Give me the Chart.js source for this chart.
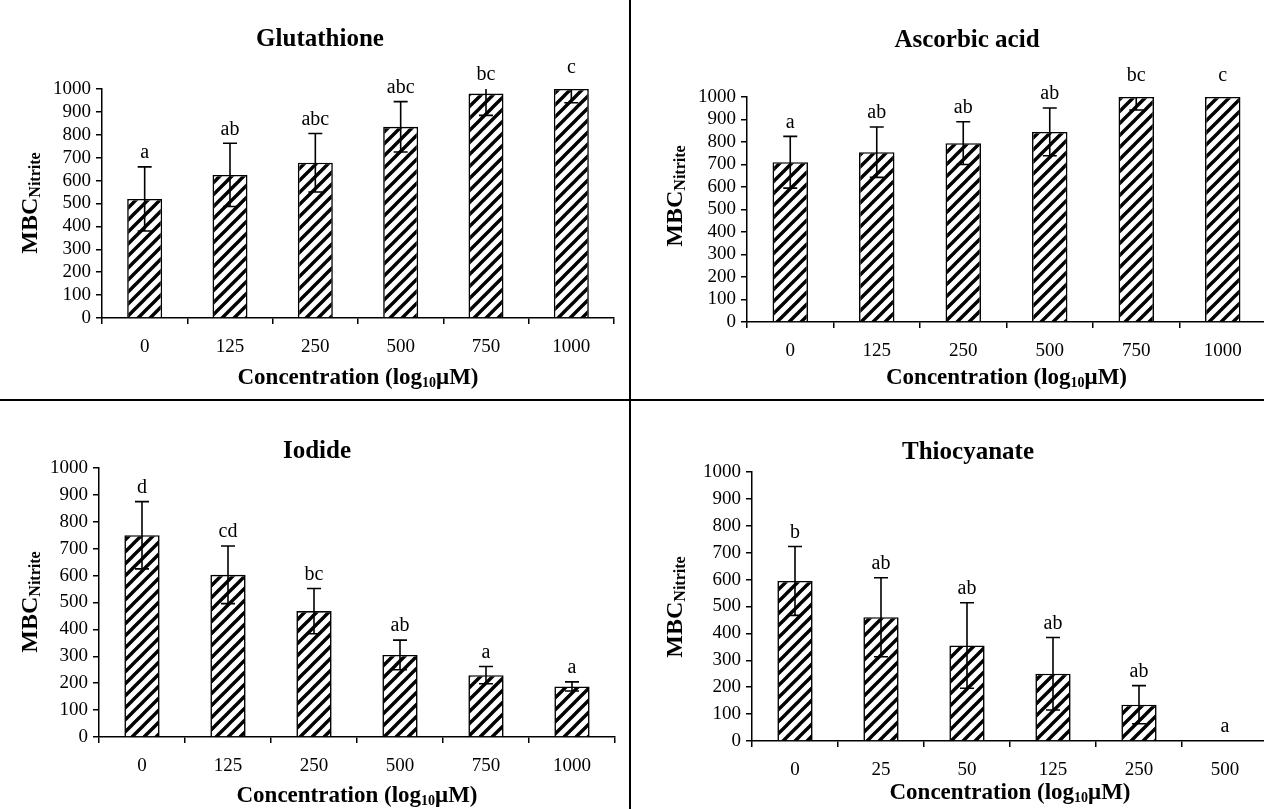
<!DOCTYPE html>
<html>
<head>
<meta charset="utf-8">
<script src="https://cdn.jsdelivr.net/npm/chart.js@4.4.1/dist/chart.umd.min.js"></script>
<style>
  html, body { margin: 0; padding: 0; background: #fff; overflow: hidden; }
  body { width: 1264px; height: 809px; position: relative; }
  canvas { position: absolute; }
  .rule { position: absolute; background: #000; }
</style>
</head>
<body>
<canvas id="glutaChart"></canvas>
<canvas id="ascorbicChart"></canvas>
<canvas id="iodideChart"></canvas>
<canvas id="thioChart"></canvas>
<div class="rule" style="left:629px; top:0; width:2px; height:809px;"></div>
<div class="rule" style="left:0; top:399px; width:1264px; height:2px;"></div>
<script>
// Dữ liệu
const concLabels = ['0', '125', '250', '500', '750', '1000'];
const thioLabels = ['0', '25', '50', '125', '250', '500'];

const glutaMeans = [520, 625, 678, 835, 980, 1000];
const glutaErrors = [140, 138, 128, 110, 95, 60];
const glutaLetters = ['a', 'ab', 'abc', 'abc', 'bc', 'c'];

const ascorbicMeans = [710, 755, 795, 845, 1000, 1000];
const ascorbicErrors = [115, 112, 95, 106, 58, 0];
const ascorbicLetters = ['a', 'ab', 'ab', 'ab', 'bc', 'c'];

const iodideMeans = [750, 603, 468, 305, 230, 188];
const iodideErrors = [125, 107, 84, 55, 32, 17];
const iodideLetters = ['d', 'cd', 'bc', 'ab', 'a', 'a'];

const thioMeans = [595, 460, 355, 250, 135, 0];
const thioErrors = [128, 147, 159, 135, 71, 0];
const thioLetters = ['b', 'ab', 'ab', 'ab', 'ab', 'a'];

const yMax = 1000;
const yStep = 100;

const SERIF = '"Liberation Serif", "Times New Roman", serif';

// Vị trí từng ô trên trang (px của trang)
const layouts = {
  gluta:    { left: 0,   top: 0,   width: 629, height: 399, plot: [102, 89, 614, 318], titleX: 320, titleY: 40,  yTitleX: 31,  yTitleY: 203, xTitleY: 378 },
  ascorbic: { left: 631, top: 0,   width: 640, height: 399, plot: [747, 97, 1266, 322], titleX: 967, titleY: 41, yTitleX: 676, yTitleY: 196, xTitleY: 378 },
  iodide:   { left: 0,   top: 401, width: 629, height: 408, plot: [99, 468, 615, 737], titleX: 317, titleY: 452, yTitleX: 31,  yTitleY: 602, xTitleY: 796 },
  thio:     { left: 631, top: 401, width: 640, height: 408, plot: [752, 472, 1268, 741], titleX: 968, titleY: 453, yTitleX: 676, yTitleY: 607, xTitleY: 793 }
};

// Tạo mẫu gạch chéo cho cột
function makeHatch() {
  const size = 12;
  const c = document.createElement('canvas');
  c.width = size;
  c.height = size;
  const g = c.getContext('2d');
  g.fillStyle = '#fff';
  g.fillRect(0, 0, size, size);
  g.strokeStyle = '#000';
  g.lineWidth = 3.4;
  g.beginPath();
  g.moveTo(-1, size + 1); g.lineTo(size + 1, -1);
  g.moveTo(-size / 2 - 1, size / 2 + 1); g.lineTo(size / 2 + 1, -size / 2 - 1);
  g.moveTo(size / 2 - 1, size * 1.5 + 1); g.lineTo(size * 1.5 + 1, size / 2 - 1);
  g.stroke();
  return g.createPattern(c, 'repeat');
}

// Plugin vẽ thanh sai số, chữ cái, tiêu đề và nhãn trục
const panelDecor = {
  id: 'panelDecor',
  afterDatasetsDraw(chart) {
    const ctx = chart.ctx;
    const L = chart.options.plugins.panelDecor;
    const ds = chart.data.datasets[0];
    const meta = chart.getDatasetMeta(0);
    const y = chart.scales.y;
    const area = chart.chartArea;

    // Thanh sai số (cắt theo vùng biểu đồ)
    ctx.save();
    ctx.beginPath();
    ctx.rect(area.left, area.top, area.right - area.left, area.bottom - area.top + 1);
    ctx.clip();
    ctx.strokeStyle = '#000';
    ctx.lineWidth = 1.6;
    meta.data.forEach((bar, i) => {
      const err = ds.errors[i];
      if (!err) return;
      const x = bar.x;
      const top = y.getPixelForValue(ds.data[i] + err);
      const bot = y.getPixelForValue(ds.data[i] - err);
      ctx.beginPath();
      ctx.moveTo(x, top); ctx.lineTo(x, bot);
      ctx.moveTo(x - 7, top); ctx.lineTo(x + 7, top);
      ctx.moveTo(x - 7, bot); ctx.lineTo(x + 7, bot);
      ctx.stroke();
    });
    ctx.restore();

    // Chữ cái thống kê trên mỗi cột
    ctx.save();
    ctx.fillStyle = '#000';
    ctx.font = '20px ' + SERIF;
    ctx.textAlign = 'center';
    ctx.textBaseline = 'middle';
    meta.data.forEach((bar, i) => {
      let ty;
      if (ds.data[i] >= yMax) {
        ty = area.top - 21;
      } else {
        const top = Math.min(ds.data[i] + ds.errors[i], yMax);
        ty = y.getPixelForValue(top) - 14;
      }
      ctx.fillText(ds.letters[i], bar.x, ty);
    });
    ctx.restore();

    // Tiêu đề
    ctx.save();
    ctx.fillStyle = '#000';
    ctx.textAlign = 'center';
    ctx.textBaseline = 'middle';
    ctx.font = 'bold 25px ' + SERIF;
    ctx.fillText(L.title, L.titleX - L.left, L.titleY - L.top);
    ctx.restore();

    // Nhãn trục x: Concentration (log10μM)
    ctx.save();
    ctx.fillStyle = '#000';
    ctx.textBaseline = 'middle';
    const big = 'bold 23px ' + SERIF;
    const small = 'bold 14px ' + SERIF;
    const p1 = 'Concentration (log', p2 = '10', p3 = '\u03BCM)';
    ctx.font = big;
    const w1 = ctx.measureText(p1).width, w3 = ctx.measureText(p3).width;
    ctx.font = small;
    const w2 = ctx.measureText(p2).width;
    const cx = (area.left + area.right) / 2;
    let sx = cx - (w1 + w2 + w3) / 2;
    const sy = L.xTitleY - L.top;
    ctx.font = big; ctx.fillText(p1, sx, sy); sx += w1;
    ctx.font = small; ctx.fillText(p2, sx, sy + 5); sx += w2;
    ctx.font = big; ctx.fillText(p3, sx, sy);
    ctx.restore();

    // Nhãn trục y: MBC Nitrite (xoay dọc)
    ctx.save();
    ctx.fillStyle = '#000';
    ctx.textBaseline = 'middle';
    ctx.translate(L.yTitleX - L.left, L.yTitleY - L.top);
    ctx.rotate(-Math.PI / 2);
    const f1 = 'bold 24px ' + SERIF, f2 = 'bold 16px ' + SERIF;
    ctx.font = f1;
    const m1 = ctx.measureText('MBC').width;
    ctx.font = f2;
    const m2 = ctx.measureText('Nitrite').width;
    let tx = -(m1 + m2) / 2;
    ctx.font = f1; ctx.fillText('MBC', tx, 0); tx += m1;
    ctx.font = f2; ctx.fillText('Nitrite', tx, 5);
    ctx.restore();
  }
};

// Hàm tạo một biểu đồ
function buildChart(canvasId, L, labels, means, errors, letters, title) {
  const canvas = document.getElementById(canvasId);
  canvas.width = L.width;
  canvas.height = L.height;
  canvas.style.left = L.left + 'px';
  canvas.style.top = L.top + 'px';
  const ctx = canvas.getContext('2d');
  L.title = title;

  const axisGrid = {
    display: true,
    drawOnChartArea: false,
    drawTicks: true,
    tickLength: 6,
    color: '#000',
    lineWidth: 1.5
  };

  return new Chart(ctx, {
    type: 'bar',
    data: {
      labels: labels,
      datasets: [{
        data: means,
        errors: errors,
        letters: letters,
        backgroundColor: makeHatch(),
        borderColor: '#000',
        borderWidth: 1.6,
        barPercentage: 0.41,
        categoryPercentage: 1
      }]
    },
    options: {
      responsive: false,
      animation: false,
      devicePixelRatio: 1,
      layout: {
        padding: { top: L.plot[1] - L.top, right: L.left + L.width - L.plot[2], left: 0, bottom: 0 }
      },
      plugins: {
        legend: { display: false },
        tooltip: { enabled: false },
        panelDecor: L
      },
      scales: {
        x: {
          grid: Object.assign({ offset: true }, axisGrid),
          border: { display: true, color: '#000', width: 1.5 },
          ticks: { color: '#000', font: { family: SERIF, size: 19 }, padding: 12, maxRotation: 0, autoSkip: false },
          afterFit: (s) => { s.height = L.top + L.height - L.plot[3]; }
        },
        y: {
          min: 0,
          max: yMax,
          grid: axisGrid,
          border: { display: true, color: '#000', width: 1.5 },
          ticks: {
            stepSize: yStep,
            autoSkip: false,
            color: '#000',
            font: { family: SERIF, size: 19 },
            padding: 5,
            callback: (v) => String(v)
          },
          afterFit: (s) => { s.width = L.plot[0] - L.left; }
        }
      }
    },
    plugins: [panelDecor]
  });
}

buildChart('glutaChart', layouts.gluta, concLabels, glutaMeans, glutaErrors, glutaLetters, 'Glutathione');
buildChart('ascorbicChart', layouts.ascorbic, concLabels, ascorbicMeans, ascorbicErrors, ascorbicLetters, 'Ascorbic acid');
buildChart('iodideChart', layouts.iodide, concLabels, iodideMeans, iodideErrors, iodideLetters, 'Iodide');
buildChart('thioChart', layouts.thio, thioLabels, thioMeans, thioErrors, thioLetters, 'Thiocyanate');
</script>
</body>
</html>
